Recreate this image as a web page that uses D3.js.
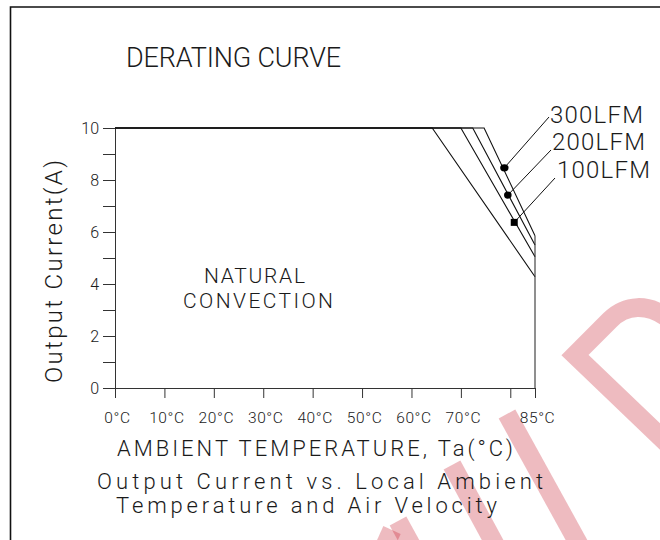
<!DOCTYPE html>
<html>
<head>
<meta charset="utf-8">
<script src="https://cdn.jsdelivr.net/npm/d3@7"></script>
<style>
  html, body { margin: 0; padding: 0; background: #fff; }
  svg { display: block; }
  text { font-family: Roboto, "Liberation Sans", sans-serif; font-weight: 300; fill: #1a1a1a; }
</style>
</head>
<body>
<svg id="chart" width="660" height="540"></svg>
<script>
// ---------------- data ----------------
const seriesNames = ["NATURAL CONVECTION", "100LFM", "200LFM", "300LFM"];
const naturalTemp = [0, 64.2, 85];
const naturalCurrent = [10, 10, 4.28];
const lfm100Temp = [0, 70.0, 85];
const lfm100Current = [10, 10, 5.05];
const lfm200Temp = [0, 72.4, 85];
const lfm200Current = [10, 10, 5.5];
const lfm300Temp = [0, 74.7, 85];
const lfm300Current = [10, 10, 5.86];

// marker points on the forced-air curves (100, 200, 300 LFM)
const markerNames = ["100LFM", "200LFM", "300LFM"];
const markerTemp = [80.8, 79.5, 78.8];
const markerCurrent = [6.37, 7.42, 8.47];
const markerShape = ["square", "circle", "circle"];

const xTickValues = [0, 10, 20, 30, 40, 50, 60, 70, 80, 85];
const xTickLabels = ["0°C", "10°C", "20°C", "30°C", "40°C", "50°C", "60°C", "70°C", "", "85°C"];
const yTickValues = [0, 1, 2, 3, 4, 5, 6, 7, 8, 9, 10];
const yTickLabels = ["0", "", "2", "", "4", "", "6", "", "8", "", "10"];

const titleText = "DERATING CURVE";
const yAxisTitle = "Output Current(A)";
const xAxisTitle = "AMBIENT TEMPERATURE, Ta(°C)";
const captionLines = ["Output Current vs. Local Ambient", "Temperature and Air Velocity"];

// ---------------- drawing ----------------
const svg = d3.select("#chart");
const x = d3.scaleLinear().domain([0, 85]).range([115, 535]);
const y = d3.scaleLinear().domain([0, 10]).range([388, 128]);

// watermark (decorative, behind everything)
const wm = svg.append("g").attr("fill", "none")
  .attr("stroke", "rgba(200,30,45,0.3)").attr("stroke-width", 19);
wm.append("path").attr("d", "M 670,320 C 648,302 625,305 610,320 L 575,355 L 672,448")
  .attr("stroke-linejoin", "miter");
wm.append("path").attr("d", "M 507,414 L 582,550");
wm.append("path").attr("d", "M 452,465 L 498,550");
wm.append("path").attr("d", "M 398,521 L 415,552");
wm.append("path").attr("d", "M 392,530 L 383,550");

// frame
svg.append("path").attr("d", "M 10.5,545 L 10.5,7 L 665,7")
  .attr("fill", "none").attr("stroke", "#111").attr("stroke-width", 1.6);

// title
svg.append("text").attr("x", 126).attr("y", 67).attr("font-size", 27)
  .attr("textLength", 215).attr("lengthAdjust", "spacing").text(titleText);

// y axis
const yAxis = d3.axisLeft(y).tickValues(yTickValues)
  .tickFormat((d, i) => yTickLabels[i]).tickSize(12).tickSizeOuter(0);
const gy = svg.append("g").attr("transform", `translate(${x(0)},0)`).call(yAxis);
gy.select(".domain").attr("stroke", "#333");
gy.selectAll(".tick line").attr("stroke", "#333");
gy.selectAll(".tick text").attr("x", -16).attr("dy", "0.36em")
  .attr("font-size", 16).attr("font-family", "Roboto, sans-serif").attr("fill", "#1a1a1a");

// x axis
const xAxis = d3.axisBottom(x).tickValues(xTickValues)
  .tickFormat((d, i) => xTickLabels[i]).tickSize(10).tickSizeOuter(0);
const gx = svg.append("g").attr("transform", `translate(0,${y(0)})`).call(xAxis);
gx.select(".domain").attr("stroke", "#333").attr("d", `M${x(0) - 12},0.5H${x(85)}`);
gx.selectAll(".tick line").attr("stroke", "#333");
gx.selectAll(".tick text").attr("y", 35).attr("dy", 0).attr("dx", 2)
  .attr("font-size", 15.5).attr("letter-spacing", 0.6)
  .attr("font-family", "Roboto, sans-serif").attr("fill", "#1a1a1a");

// curves
const line = d3.line().x(d => x(d[0])).y(d => y(d[1]));
const curves = [
  d3.zip(naturalTemp, naturalCurrent),
  d3.zip(lfm100Temp, lfm100Current),
  d3.zip(lfm200Temp, lfm200Current),
  d3.zip(lfm300Temp, lfm300Current)
];
svg.append("g").selectAll("path").data(curves).join("path")
  .attr("d", line).attr("fill", "none").attr("stroke", "#111").attr("stroke-width", 1.1);

// right boundary at 85°C
const maxEnd = d3.max([naturalCurrent[2], lfm100Current[2], lfm200Current[2], lfm300Current[2]]);
svg.append("line").attr("x1", x(85)).attr("x2", x(85))
  .attr("y1", y(maxEnd)).attr("y2", y(0)).attr("stroke", "#333").attr("stroke-width", 1.1);

// leaders + labels
const labelPos = { "300LFM": [550, 123], "200LFM": [552, 150], "100LFM": [557, 178] };
const leaderEnd = { "300LFM": [549, 117], "200LFM": [551, 150], "100LFM": [555, 178] };
markerNames.forEach((n, i) => {
  const px = x(markerTemp[i]), py = y(markerCurrent[i]);
  svg.append("line").attr("x1", px).attr("y1", py)
    .attr("x2", leaderEnd[n][0]).attr("y2", leaderEnd[n][1])
    .attr("stroke", "#111").attr("stroke-width", 1);
  if (markerShape[i] === "square") {
    svg.append("rect").attr("x", px - 3.5).attr("y", py - 3.5)
      .attr("width", 7).attr("height", 7).attr("fill", "#000");
  } else {
    svg.append("ellipse").attr("cx", px).attr("cy", py)
      .attr("rx", n === "300LFM" ? 4.2 : 3.8).attr("ry", 3.6).attr("fill", "#000");
  }
  svg.append("text").attr("x", labelPos[n][0]).attr("y", labelPos[n][1])
    .attr("font-size", 24).attr("textLength", 93).attr("lengthAdjust", "spacing").text(n);
});

// NATURAL CONVECTION label
const nc = seriesNames[0].split(" ");
svg.append("text").attr("x", 204).attr("y", 283).attr("font-size", 21)
  .attr("textLength", 101).attr("lengthAdjust", "spacing").text(nc[0]);
svg.append("text").attr("x", 183).attr("y", 308).attr("font-size", 21)
  .attr("textLength", 150).attr("lengthAdjust", "spacing").text(nc[1]);

// y axis title
svg.append("text").attr("transform", "translate(62,383) rotate(-90)")
  .attr("font-size", 24).attr("textLength", 223).attr("lengthAdjust", "spacing").text(yAxisTitle);

// x axis title and caption
svg.append("text").attr("x", 117).attr("y", 456).attr("font-size", 22)
  .attr("textLength", 396).attr("lengthAdjust", "spacing").text(xAxisTitle);
svg.append("text").attr("x", 97).attr("y", 489).attr("font-size", 22)
  .attr("textLength", 446).attr("lengthAdjust", "spacing").text(captionLines[0]);
svg.append("text").attr("x", 116).attr("y", 513).attr("font-size", 22)
  .attr("textLength", 381).attr("lengthAdjust", "spacing").text(captionLines[1]);
</script>
</body>
</html>
